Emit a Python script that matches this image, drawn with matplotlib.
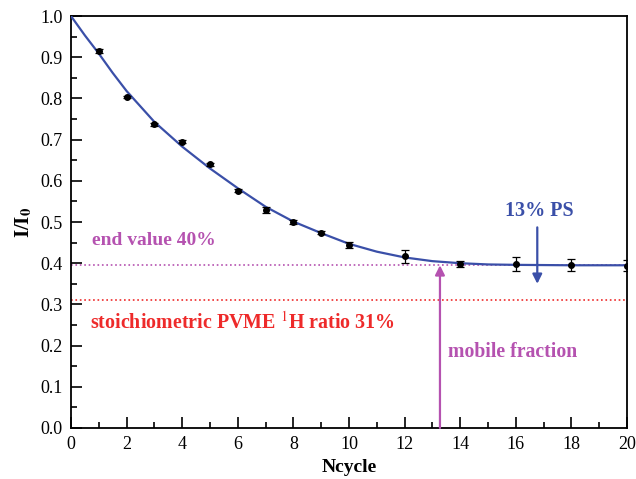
import matplotlib.pyplot as plt
from matplotlib.ticker import MultipleLocator

plt.rcParams['font.family'] = ['Liberation Serif', 'DejaVu Serif']
plt.rcParams['mathtext.fontset'] = 'stix'

# measured points
ncycle = [1, 2, 3, 4, 5, 6, 7, 8, 9, 10, 12, 14, 16, 18, 20]
ratio = [0.915, 0.803, 0.737, 0.695, 0.640, 0.576, 0.529, 0.501, 0.474, 0.445,
         0.417, 0.398, 0.398, 0.396, 0.394]
err = [0.004, 0.003, 0.003, 0.003, 0.003, 0.003, 0.007, 0.005, 0.004, 0.007,
       0.016, 0.008, 0.016, 0.014, 0.014]

# fit curve
fit_x = [0, 0.5, 1, 1.5, 2, 3, 4, 5, 6, 7, 8, 9, 10, 11, 12, 13, 14, 15, 16, 18, 20]
fit_y = [1.0, 0.953, 0.909, 0.862, 0.818, 0.743, 0.683, 0.630, 0.582, 0.537, 0.501,
         0.473, 0.447, 0.428, 0.414, 0.405, 0.400, 0.397, 0.396, 0.395, 0.395]

end_value = 0.395
stoich = 0.31

fig = plt.figure(figsize=(6.36, 4.79), dpi=100)
ax = fig.add_axes([0.1116, 0.1065, 0.8744, 0.86])

blue = '#3a4fa8'
purple = '#b552b0'
red = '#ee2a2a'

ax.axhline(end_value, color=purple, ls=':', lw=1.2)
ax.axhline(stoich, color=red, ls=':', lw=1.2)
ax.plot(fit_x, fit_y, color=blue, lw=1.6, zorder=3)
ax.errorbar(ncycle, ratio, yerr=err, fmt='o', color='black', ms=4,
            capsize=3, elinewidth=0.9, capthick=0.9, zorder=4)

ax.annotate('', xy=(13.27, end_value), xytext=(13.27, 0.0),
            arrowprops=dict(arrowstyle='-|>', color=purple, lw=1.6,
                            mutation_scale=14, shrinkA=0, shrinkB=0))
ax.annotate('', xy=(16.77, 0.35), xytext=(16.77, 0.487),
            arrowprops=dict(arrowstyle='-|>', color=blue, lw=1.6,
                            mutation_scale=14, shrinkA=0, shrinkB=0))

ax.text(16.85, 0.527, '13% PS', color=blue, fontsize=14.5, fontweight='bold',
        ha='center', va='center')
ax.text(0.75, 0.456, 'end value 40%', color=purple, fontsize=14,
        fontweight='bold', va='center')
ax.text(0.68, 0.257, r'stoichiometric PVME $^{\mathrm{1}}$H ratio 31%', color=red,
        fontsize=14.4, fontweight='bold', va='center')
ax.text(13.56, 0.184, 'mobile fraction', color=purple, fontsize=14.2,
        fontweight='bold', va='center')

ax.set_xlim(0, 20)
ax.set_ylim(0, 1.0)
ax.xaxis.set_major_locator(MultipleLocator(2))
ax.xaxis.set_minor_locator(MultipleLocator(1))
ax.yaxis.set_major_locator(MultipleLocator(0.1))
ax.yaxis.set_minor_locator(MultipleLocator(0.05))
ax.tick_params(which='both', direction='in', labelsize=13, pad=6)
ax.tick_params(which='major', length=8, width=1.2)
ax.tick_params(which='minor', length=4, width=1.2)
for s in ax.spines.values():
    s.set_linewidth(1.3)

ax.set_xlabel('Ncycle', fontsize=14, fontweight='bold', labelpad=4)
ax.set_ylabel(r'I/I$_\mathbf{0}$', fontsize=15, fontweight='bold', labelpad=4)

fig.savefig('out.png', dpi=100)
